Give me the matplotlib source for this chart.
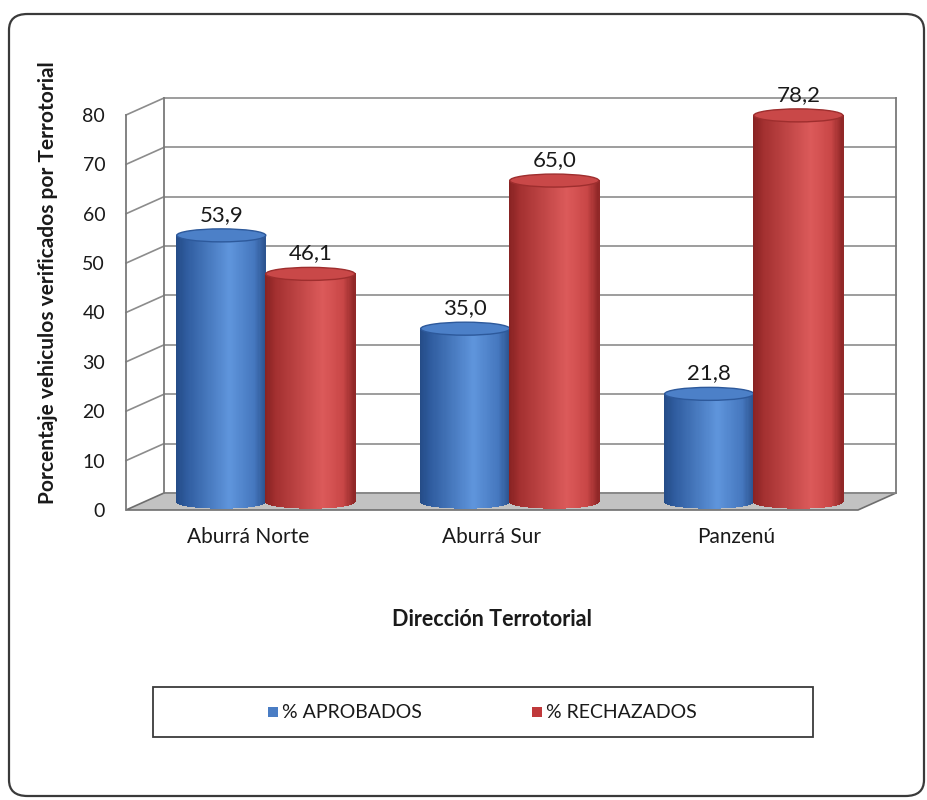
import numpy as np
import matplotlib
matplotlib.use("Agg")
import matplotlib.pyplot as plt
from matplotlib.collections import PolyCollection
from matplotlib.patches import Polygon, FancyBboxPatch, Ellipse, Rectangle
from matplotlib.transforms import IdentityTransform
from matplotlib.colors import to_rgb

# ---------------- data ----------------
categories = ["Aburrá Norte", "Aburrá Sur", "Panzenú"]
aprobados = [53.9, 35.0, 21.8]
rechazados = [46.1, 65.0, 78.2]
series_names = ["% APROBADOS", "% RECHAZADOS"]
yticks = [0, 10, 20, 30, 40, 50, 60, 70, 80]
x_title = "Dirección Terrotorial"
y_title = "Porcentaje vehiculos verificados por Terrotorial"

plt.rcParams['font.family'] = ['Lato', 'DejaVu Sans']

W, H = 927, 800
fig = plt.figure(figsize=(W / 100, H / 100), dpi=100)
fig.patch.set_facecolor("white")

# outer rounded border
border = FancyBboxPatch((9 / W, 4 / H), (915) / W, (782) / H,
                        boxstyle="round,pad=0,rounding_size=0.02",
                        transform=fig.transFigure, facecolor="none",
                        edgecolor="#3a3a3a", linewidth=1.6, zorder=-5)
fig.patches.append(border)

# front plane of the 3D plot
left_px, right_px, top_px, bot_px = 126, 858, 115, 510
ax = fig.add_axes([left_px / W, 1 - bot_px / H, (right_px - left_px) / W,
                   (bot_px - top_px) / H])
ax.set_xlim(0, 3)
ax.set_ylim(0, 80)
ax.patch.set_alpha(0)
for s in ax.spines.values():
    s.set_visible(False)
ax.set_yticks(yticks)
ax.set_yticklabels([str(v) for v in yticks])
ax.set_xticks([i + 0.5 for i in range(len(categories))])
ax.set_xticklabels(categories)
ax.tick_params(axis='y', length=0, pad=15, labelsize=14, labelcolor="#1a1a1a")
ax.tick_params(axis='x', length=0, pad=12, labelsize=15, labelcolor="#1a1a1a")
ax.set_xlabel(x_title, fontsize=15.5, fontweight='bold', labelpad=45, color="#1a1a1a")
ax.set_ylabel(y_title, fontsize=15, fontweight='bold', color="#1a1a1a")
ax.yaxis.set_label_coords(-0.093, 0.575)

DX, DY = 38.0, 17.0  # depth offset in pixels
ID = IdentityTransform()


def P(x, v, d=0.0):
    px, py = ax.transData.transform((x, v))
    return (px + d * DX, py + d * DY)


def line(p, q, color="#8c8c8c", lw=1.2, z=2):
    ln = plt.Line2D([p[0], q[0]], [p[1], q[1]], transform=ID, color=color,
                    lw=lw, zorder=z, clip_on=False)
    ax.add_line(ln)


# floor
floor = Polygon([P(0, 0, 0), P(3, 0, 0), P(3, 0, 1), P(0, 0, 1)], closed=True,
                facecolor="#c2c2c2", edgecolor="#6e6e6e", lw=1.2,
                transform=ID, zorder=1, clip_on=False)
ax.add_patch(floor)

# grid lines on back wall and left wall
for v in yticks:
    line(P(0, v, 1), P(3, v, 1))
    if v > 0:
        line(P(0, v, 0), P(0, v, 1))
# wall edges
line(P(0, 0, 0), P(0, 80, 0), "#7a7a7a", 1.3)
line(P(0, 0, 1), P(0, 80, 1), "#7a7a7a", 1.3)
line(P(3, 0, 1), P(3, 80, 1), "#7a7a7a", 1.3)


def grad_color(stops, t):
    ts = [s[0] for s in stops]
    cs = np.array([to_rgb(s[1]) for s in stops])
    return tuple(np.interp(t, ts, cs[:, k]) for k in range(3))


blue_stops = [(0.0, "#244b86"), (0.12, "#2f5c9f"), (0.6, "#5f95dc"),
              (0.88, "#4577be"), (1.0, "#2c538f")]
red_stops = [(0.0, "#862222"), (0.12, "#a33030"), (0.65, "#dc5a5a"),
             (0.88, "#c84646"), (1.0, "#8e2626")]
blue_top = "#4c80c8"
red_top = "#c94848"

bar_w = 0.365
offsets = [0.13, 0.495]
EB = 6.5  # ellipse semi-minor axis (px)


def cylinder(x0, v, stops, topcol, z):
    (lx, by) = P(x0, 0, 0.5)
    (rx, _) = P(x0 + bar_w, 0, 0.5)
    (_, ty) = P(x0, v, 0.5)
    cx = (lx + rx) / 2
    a = (rx - lx) / 2
    N = 80
    polys, cols = [], []
    for k in range(N):
        t0, t1 = k / N, (k + 1) / N
        u0, u1 = 2 * t0 - 1, 2 * t1 - 1
        xa, xb = cx + a * u0, cx + a * u1
        ya = by - EB * np.sqrt(max(0, 1 - u0 ** 2))
        yb = by - EB * np.sqrt(max(0, 1 - u1 ** 2))
        polys.append([(xa, ya), (xb, yb), (xb, ty), (xa, ty)])
        cols.append(grad_color(stops, (t0 + t1) / 2))
    pc = PolyCollection(polys, facecolors=cols, edgecolors=cols, lw=0.3,
                        transform=ID, zorder=z, antialiased=False)
    pc.set_clip_on(False)
    ax.add_collection(pc, autolim=False)
    top = Ellipse((cx, ty), 2 * a, 2 * EB, transform=ID, facecolor=topcol,
                  edgecolor=grad_color(stops, 0.1), lw=1.0, zorder=z + 0.1,
                  clip_on=False)
    ax.add_patch(top)
    ax.text(cx, ty + EB + 4, f"{v:.1f}".replace(".", ","), transform=ID,
            ha="center", va="bottom", fontsize=16, color="#1a1a1a",
            zorder=z + 0.2, clip_on=False)


for i in range(len(categories)):
    cylinder(i + offsets[0], aprobados[i], blue_stops, blue_top, 3 + i)
    cylinder(i + offsets[1], rechazados[i], red_stops, red_top, 3.5 + i)

ax.set_xlim(0, 3)
ax.set_ylim(0, 80)

# legend box
lb = Rectangle((153 / W, 1 - 737 / H), (813 - 153) / W, 50 / H,
               transform=fig.transFigure, facecolor="none",
               edgecolor="#3a3a3a", lw=1.3, zorder=5)
fig.patches.append(lb)
for name, col, xs in [(series_names[0], "#4a7dc4", 268),
                      (series_names[1], "#c0393b", 532)]:
    fig.patches.append(Rectangle((xs / W, 1 - 717 / H), 10 / W, 10 / H,
                                 transform=fig.transFigure, facecolor=col,
                                 edgecolor="none", zorder=6))
    fig.text((xs + 14) / W, 1 - 712 / H, name, ha="left", va="center",
             fontsize=14, color="#1a1a1a", zorder=6)

fig.savefig("out.png", dpi=100)
